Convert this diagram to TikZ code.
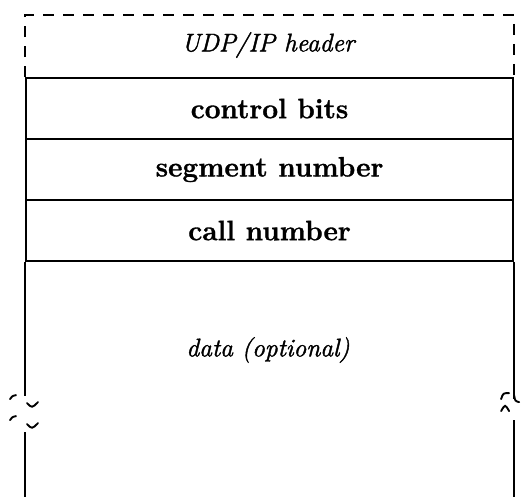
\documentclass[tikz,border=0pt]{standalone}
\usepackage{fontspec}
\setmainfont{Latin Modern Roman}[ItalicFeatures={FakeBold=1.6}, BoldFeatures={FakeBold=1.2}]
\usetikzlibrary{calc}
\begin{document}
\begin{tikzpicture}[x=1pt,y=-1pt]
\useasboundingbox (0,0) rectangle (525,496);
\tikzset{
  field/.style={draw, line width=2.1pt, minimum width=487pt, minimum height=61pt, inner sep=0pt, anchor=north west, font=\fontsize{28}{32}\selectfont\bfseries},
  label/.style={font=\fontsize{25.5}{30}\selectfont\itshape},
  side/.style={line width=1.6pt},
  hdash/.style={line width=1.5pt, dash pattern=on 11pt off 9pt},
  brk/.style={line width=1.9pt, line cap=round}
}
\node[field] (ctrl) at (25,77) {control bits};
\node[field] (seg) at (25,138) {segment number};
\node[field] (call) at (25,199) {call number};
\node[label] (hdr) at (268,45) {UDP/IP header};
\node[label] (data) at (268,350) {data (optional)};
% dashed header frame
\coordinate (tl) at ($(ctrl.north west)+(0,-62)$);
\coordinate (tr) at ($(ctrl.north east)+(0,-62)$);
\draw[hdash] (ctrl.north west) -- (tl) -- (tr) -- (ctrl.north east);
% data sides with breaks
\coordinate (lb1) at ($(call.south west)+(0,134)$);
\coordinate (lb2) at ($(call.south west)+(0,170)$);
\coordinate (lbot) at ($(call.south west)+(0,237)$);
\coordinate (rb1) at ($(call.south east)+(0,137)$);
\coordinate (rb2) at ($(call.south east)+(0,158)$);
\coordinate (rbot) at ($(call.south east)+(0,237)$);
\draw[side] (call.south west) -- (lb1);
\draw[side] (lb2) -- (lbot);
\draw[side] (call.south east) -- (rb1);
\draw[side] (rb2) -- (rbot);
% left break marks
\draw[brk] ($(lb1)+(-15,3)$) .. controls ($(lb1)+(-13,0)$) .. ($(lb1)+(-9,-1)$);
\draw[brk] ($(lb1)+(2,7)$) .. controls ($(lb1)+(7,12)$) .. ($(lb1)+(13,6)$);
\draw[brk] ($(lb1)+(-15,24)$) .. controls ($(lb1)+(-13,21)$) .. ($(lb1)+(-9,20)$);
\draw[brk] ($(lb1)+(2,28)$) .. controls ($(lb1)+(7,33)$) .. ($(lb1)+(13,27)$);
% right break marks
\draw[brk] ($(rb1)+(-13,0)$) .. controls ($(rb1)+(-11,-6)$) .. ($(rb1)+(-5,-6)$);
\draw[brk] ($(rb1)+(-13,12)$) .. controls ($(rb1)+(-9,5)$) .. ($(rb1)+(-5,12)$);
\draw[brk] ($(rb1)+(0,-4)$) .. controls ($(rb1)+(1,2)$) .. ($(rb1)+(5,3)$);
\end{tikzpicture}
\end{document}
